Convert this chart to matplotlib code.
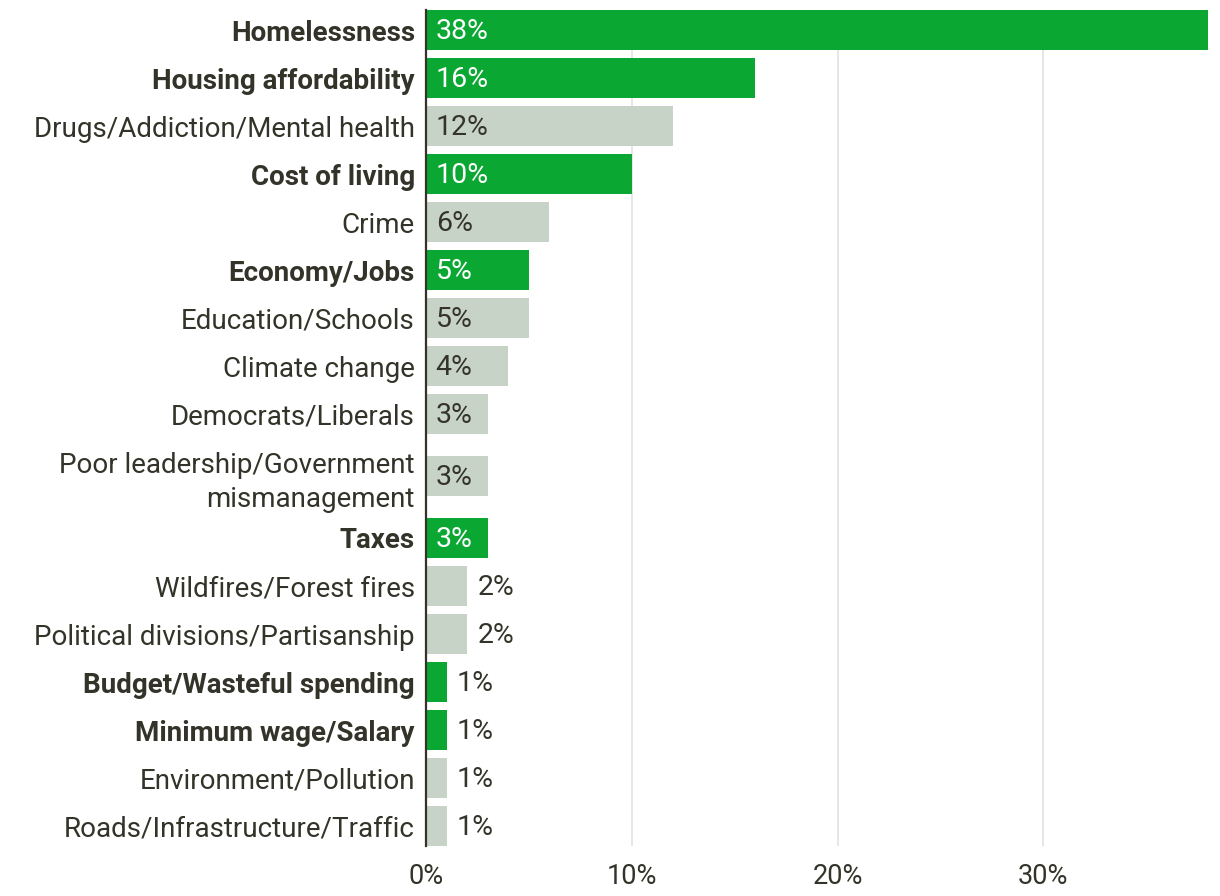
import matplotlib.pyplot as plt

categories = [
    "Homelessness", "Housing affordability", "Drugs/Addiction/Mental health",
    "Cost of living", "Crime", "Economy/Jobs", "Education/Schools",
    "Climate change", "Democrats/Liberals",
    "Poor leadership/Government\nmismanagement", "Taxes",
    "Wildfires/Forest fires", "Political divisions/Partisanship",
    "Budget/Wasteful spending", "Minimum wage/Salary",
    "Environment/Pollution", "Roads/Infrastructure/Traffic",
]
values = [38, 16, 12, 10, 6, 5, 5, 4, 3, 3, 3, 2, 2, 1, 1, 1, 1]
highlight = [True, True, False, True, False, True, False, False, False,
             False, True, False, False, True, True, False, False]
xticks = [0, 10, 20, 30]

GREEN = "#0aa832"
GREY = "#c8d3c7"
TEXT = "#333329"

plt.rcParams['font.family'] = ['Roboto', 'DejaVu Sans']

# rows with two-line labels get extra room above and below
y = []
pos = 0.0
for i, c in enumerate(categories):
    if "\n" in c:
        pos += 14 / 48
        y.append(pos)
        pos += 14 / 48
    else:
        y.append(pos)
    pos += 1

fig = plt.figure(figsize=(12.2, 8.96), dpi=100)
ax = fig.add_axes([426 / 1220, 1 - 846 / 896, (1208 - 426) / 1220, 836 / 896])

colors = [GREEN if h else GREY for h in highlight]
ax.barh(y, values, height=40 / 48, color=colors, zorder=2)

for yi, v, h in zip(y, values, highlight):
    if v >= 3:
        ax.annotate(f"{v}%", (0, yi), xytext=(7, -1.2), textcoords="offset points",
                    va="center", ha="left", fontsize=20.5,
                    color="white" if h else TEXT, zorder=3)
    else:
        ax.annotate(f"{v}%", (v, yi), xytext=(7.5, -1.2), textcoords="offset points",
                    va="center", ha="left", fontsize=20.5, color=TEXT, zorder=3)

ax.set_yticks(y)
ax.set_yticklabels(categories, fontsize=20, color=TEXT, linespacing=1.35)
for lbl, h in zip(ax.get_yticklabels(), highlight):
    if h:
        lbl.set_fontweight("bold")
ax.set_ylim(y[-1] + 20 / 48, -20 / 48)
ax.set_xlim(0, 38)
ax.set_xticks(xticks)
ax.set_xticklabels([f"{t}%" for t in xticks], fontsize=19.5, color=TEXT)
ax.tick_params(axis="y", length=0, pad=8)
ax.tick_params(axis="x", length=0, pad=12)

ax.grid(axis="x", color="#e2e2e2", linewidth=1.2, zorder=0)
for s in ["top", "right", "bottom"]:
    ax.spines[s].set_visible(False)
ax.spines["left"].set_color(TEXT)
ax.spines["left"].set_linewidth(1.6)
ax.spines["left"].set_zorder(4)

fig.savefig("out.png", dpi=100)
